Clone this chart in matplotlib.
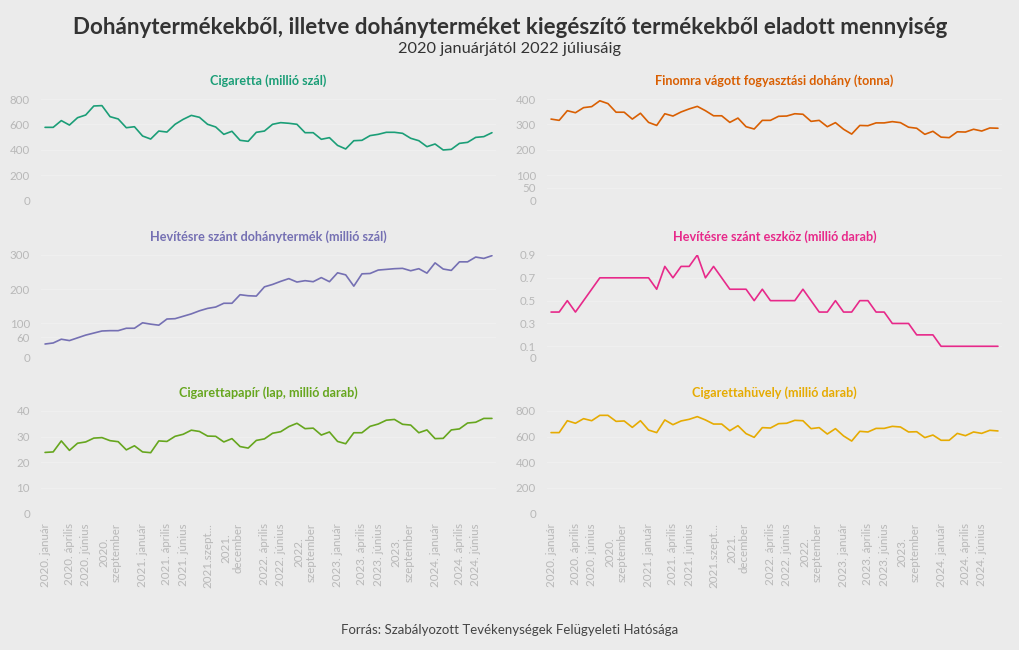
import matplotlib
matplotlib.use("Agg")
import matplotlib.pyplot as plt

plt.rcParams['font.family'] = ['Lato', 'DejaVu Sans']

months = list(range(56))  # 2020 január .. 2024 augusztus

tick_pos = [0, 3, 5, 8, 12, 15, 17, 20, 23, 27, 29, 32, 36, 39, 41, 44, 48, 51, 53]
tick_labels = ["2020. január", "2020. április", "2020. június", "2020.\nszeptember",
               "2021. január", "2021. április", "2021. június", "2021.szept...",
               "2021.\ndecember", "2022. április", "2022. június", "2022.\nszeptember",
               "2023. január", "2023. április", "2023. június", "2023.\nszeptember",
               "2024. január", "2024. április", "2024. június"]

cigaretta = [577, 577, 630, 595, 653, 674, 745, 748, 661, 643, 574, 582, 509, 485, 548, 540,
             601, 640, 671, 656, 601, 580, 522, 546, 475, 467, 538, 548, 601, 614, 609, 601,
             535, 535, 483, 496, 435, 407, 472, 475, 512, 522, 538, 538, 530, 491, 472, 425,
             446, 399, 404, 451, 459, 498, 504, 535]

finomra = [321, 316, 354, 346, 366, 370, 393, 382, 348, 348, 321, 344, 308, 296, 342, 333,
           349, 361, 371, 354, 334, 334, 308, 325, 291, 282, 316, 316, 332, 333, 342, 340,
           312, 316, 291, 307, 281, 262, 296, 295, 306, 306, 311, 307, 289, 285, 261, 273,
           250, 248, 271, 270, 281, 274, 286, 285]

hevitesre_termek = [40, 43, 54, 50, 58, 66, 72, 78, 79, 79, 86, 86, 102, 98, 95, 113,
                    114, 121, 128, 137, 144, 148, 159, 159, 184, 181, 180, 207, 214, 223, 231, 221,
                    225, 222, 234, 222, 248, 242, 209, 245, 246, 256, 258, 260, 261, 254, 260, 247,
                    277, 259, 255, 280, 280, 294, 290, 298]

hevitesre_eszkoz = [0.4, 0.4, 0.5, 0.4, 0.5, 0.6, 0.7, 0.7, 0.7, 0.7, 0.7, 0.7, 0.7, 0.6, 0.8, 0.7,
                    0.8, 0.8, 0.9, 0.7, 0.8, 0.7, 0.6, 0.6, 0.6, 0.5, 0.6, 0.5, 0.5, 0.5, 0.5, 0.6,
                    0.5, 0.4, 0.4, 0.5, 0.4, 0.4, 0.5, 0.5, 0.4, 0.4, 0.3, 0.3, 0.3, 0.2, 0.2, 0.2,
                    0.1, 0.1, 0.1, 0.1, 0.1, 0.1, 0.1, 0.1]

papir = [23.8, 24.0, 28.3, 24.6, 27.4, 27.9, 29.4, 29.6, 28.4, 28.0, 24.8, 26.4, 24.0, 23.7, 28.3, 28.1,
         30.1, 30.9, 32.5, 32.0, 30.2, 30.1, 27.9, 29.2, 26.1, 25.5, 28.5, 29.1, 31.3, 31.9, 33.9, 35.2,
         33.1, 33.3, 30.6, 31.8, 28.1, 27.2, 31.5, 31.5, 34.0, 34.9, 36.4, 36.7, 34.8, 34.5, 31.5, 32.6,
         29.2, 29.3, 32.6, 33.0, 35.3, 35.6, 37.1, 37.1]

huvely = [631, 631, 724, 704, 740, 724, 766, 766, 719, 722, 672, 724, 651, 631, 730, 693,
          722, 735, 756, 730, 698, 698, 646, 685, 623, 594, 670, 667, 701, 704, 727, 724,
          662, 670, 620, 662, 605, 565, 641, 636, 664, 664, 680, 675, 636, 638, 592, 612,
          571, 571, 625, 607, 636, 625, 649, 644]

panels = [
    ("Cigaretta (millió szál)", cigaretta, "#1b9e77", [0, 200, 400, 600, 800], ["0", "200", "400", "600", "800"]),
    ("Finomra vágott fogyasztási dohány (tonna)", finomra, "#d95f02", [0, 50, 100, 200, 300, 400], ["0", "50", "100", "200", "300", "400"]),
    ("Hevítésre szánt dohánytermék (millió szál)", hevitesre_termek, "#7570b3", [0, 60, 100, 200, 300], ["0", "60", "100", "200", "300"]),
    ("Hevítésre szánt eszköz (millió darab)", hevitesre_eszkoz, "#e7298a", [0, 0.1, 0.3, 0.5, 0.7, 0.9], ["0", "0.1", "0.3", "0.5", "0.7", "0.9"]),
    ("Cigarettapapír (lap, millió darab)", papir, "#66a61e", [0, 10, 20, 30, 40], ["0", "10", "20", "30", "40"]),
    ("Cigarettahüvely (millió darab)", huvely, "#e6ab02", [0, 200, 400, 600, 800], ["0", "200", "400", "600", "800"]),
]

W, H = 1020, 650
bg = "#ebebeb"
fig = plt.figure(figsize=(W / 100, H / 100), dpi=100, facecolor=bg)

lefts = [41, 547]
axw = 455
rows = [(99, 200.7), (255, 357.7), (411, 513.3)]

for k, (title, vals, color, yt, ytl) in enumerate(panels):
    r, c = divmod(k, 2)
    top, bot = rows[r]
    ax = fig.add_axes([lefts[c] / W, 1 - bot / H, axw / W, (bot - top) / H])
    ax.set_facecolor(bg)
    ax.plot(months, vals, color=color, lw=1.2, solid_joinstyle='round', solid_capstyle='round', zorder=3)
    ax.set_xlim(-0.5, 55.5)
    ax.set_ylim(0, yt[-1])
    ax.set_yticks(yt)
    ax.set_yticklabels(ytl)
    ax.grid(axis='y', color='#f0f0f0', lw=0.7, zorder=0)
    for s in ax.spines.values():
        s.set_visible(False)
    ax.tick_params(axis='both', length=0, labelsize=8.3, labelcolor='#b8b8b8', pad=8)
    ax.set_xticks(tick_pos)
    if r == 2:
        ax.set_xticklabels(tick_labels, rotation=90, ha='center', va='top',
                           multialignment='center', fontsize=8.3, color='#b8b8b8')
        ax.tick_params(axis='x', pad=7)
    else:
        ax.set_xticklabels([])
    ax.set_title(title, color=color, fontsize=9.1, fontweight='bold', pad=10)

fig.text(0.5, 1 - 27 / H, "Dohánytermékekből, illetve dohányterméket kiegészítő termékekből eladott mennyiség",
         ha='center', va='center', fontsize=16.1, fontweight='bold', color='#333333')
fig.text(0.5, 1 - 49 / H, "2020 januárjától 2022 júliusáig",
         ha='center', va='center', fontsize=11.8, color='#333333')
fig.text(0.5, 1 - 630 / H, "Forrás: Szabályozott Tevékenységek Felügyeleti Hatósága",
         ha='center', va='center', fontsize=9.5, color='#444444')

fig.savefig("out.png", dpi=100, facecolor=bg)
